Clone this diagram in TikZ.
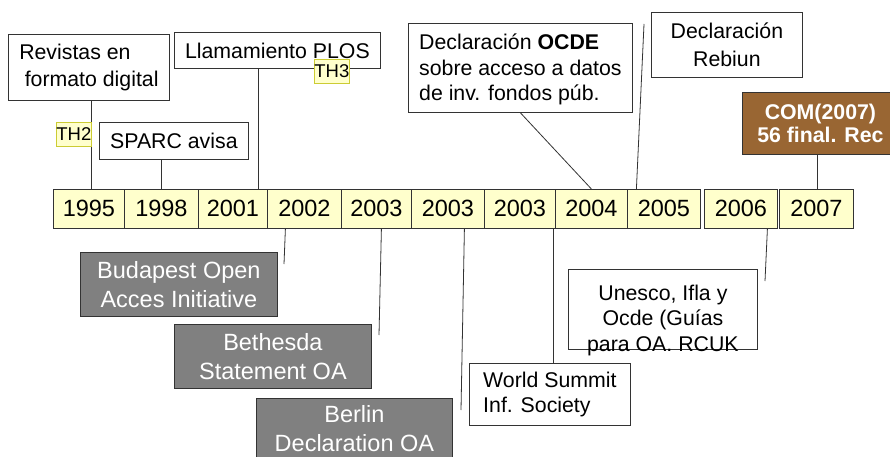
\documentclass[tikz,border=0pt]{standalone}
\usepackage{fontspec}
\setmainfont{Liberation Sans}
\usetikzlibrary{calc}
\definecolor{yfill}{HTML}{FFFFCC}
\definecolor{thline}{HTML}{CCCC33}
\definecolor{brownf}{HTML}{996633}
\definecolor{grayf}{HTML}{808080}
\definecolor{edge}{HTML}{333333}
\begin{document}
\begin{tikzpicture}[x=1pt,y=-1pt,
  box/.style={draw=edge, line width=0.8pt, inner sep=0pt, anchor=north west, font=\fontsize{21.3}{25.5}\selectfont, align=center},
  yr/.style={draw=edge, fill=yfill, line width=0.8pt, inner sep=0pt, anchor=north west, minimum height=39pt, font=\fontsize{23.5}{26}\selectfont},
  gbox/.style={box, fill=grayf, text=white, font=\fontsize{23.5}{28.5}\selectfont},
  bbox/.style={box, fill=brownf, text=white, font=\fontsize{21.3}{23.5}\selectfont\bfseries},
  th/.style={draw=thline, fill=yfill, line width=0.8pt, inner sep=0pt, anchor=north west, minimum width=35pt, minimum height=24pt, font=\fontsize{18.5}{19}\selectfont},
  conn/.style={draw=edge, line width=0.8pt}]
\useasboundingbox[fill=white] (0,0) rectangle (890,457);

% year boxes
\node[yr, minimum width=71pt] (y1) at (53,189) {1995};
\node[yr, minimum width=74pt] (y2) at (124,189) {1998};
\node[yr, minimum width=69pt] (y3) at (198,189) {2001};
\node[yr, minimum width=74pt] (y4) at (267,189) {2002};
\node[yr, minimum width=70pt] (y5) at (341,189) {2003};
\node[yr, minimum width=73pt] (y6) at (411,189) {2003};
\node[yr, minimum width=71pt] (y7) at (484,189) {2003};
\node[yr, minimum width=72pt] (y8) at (555,189) {2004};
\node[yr, minimum width=73pt] (y9) at (627,189) {2005};
\node[yr, minimum width=73pt] (y10) at (704,189) {2006};
\node[yr, minimum width=74pt] (y11) at (779,189) {2007};

% upper boxes
\node[box, align=left, minimum width=161pt, minimum height=66pt, font=\fontsize{21.3}{27}\selectfont] (rev) at (8,34) {Revistas en\\\hspace{5.5pt}formato digital};
\node[box, minimum width=149pt, minimum height=37pt] (sparc) at (99,122) {SPARC avisa};
\node[box, minimum width=206pt, minimum height=36pt] (plos) at (174,32) {Llamamiento PLOS};
\node[box, align=left, minimum width=224pt, minimum height=89pt] (ocde) at (408,23) {\raisebox{-2.5pt}[\height][\depth]{\begin{tabular}{@{}l@{}}Declaración \textbf{OCDE}\\sobre acceso a datos\\de inv. fondos púb.\end{tabular}}};
\node[box, minimum width=151pt, minimum height=65pt, font=\fontsize{21.3}{28}\selectfont] (rebiun) at (651,12) {Declaración\\Rebiun};
\node[bbox, minimum width=156pt, minimum height=62pt] (com) at (742,92) {\raisebox{-3pt}[\height][\depth]{\begin{tabular}{@{}c@{}}COM(2007)\\56 final. Rec\end{tabular}}};

% lower boxes
\node[gbox, minimum width=197pt, minimum height=64pt] (buda) at (80,252) {Budapest Open\\Acces Initiative};
\node[gbox, minimum width=197pt, minimum height=64pt] (beth) at (174,324) {Bethesda\\Statement OA};
\node[gbox, minimum width=196pt, minimum height=75pt] (berlin) at (256,398) {\raisebox{5pt}[\height][\depth]{\begin{tabular}{@{}c@{}}Berlin\\[0.5pt]Declaration OA\end{tabular}}};
\node[box, align=left, minimum width=161pt, minimum height=62pt] (wsis) at (469,363) {World Summit\\Inf. Society};
\node[box, minimum width=189pt, minimum height=80pt] (unesco) at (568,269) {\raisebox{-11pt}[\height][\depth]{\begin{tabular}{@{}c@{}}Unesco, Ifla y\\Ocde (Guías\\para OA. RCUK\end{tabular}}};

% free ends
\coordinate (e4) at (284,264);
\coordinate (e5) at (379,335);
\coordinate (e6) at (461,410);
\coordinate (e10) at (765,281);
\coordinate (erb) at (644,24);

% connectors
\draw[conn] ([xshift=2.5pt]rev.south) -- ([xshift=2.5pt]rev.south |- y1.north);
\draw[conn] (y2.north |- sparc.south) -- (y2.north);
\draw[conn] ([xshift=-19pt]plos.south) -- ([xshift=-19pt]plos.south |- y3.north);
\draw[conn] (ocde.south) -- (y8.north);
\draw[conn] ([xshift=-27.5pt]y9.north) -- (erb);
\draw[conn] ([xshift=-3pt]com.south) -- ([xshift=-3pt]com.south |- y11.north);
\draw[conn] ([xshift=-19pt]y4.south) -- (e4);
\draw[conn] ([xshift=5pt]y5.south) -- (e5);
\draw[conn] ([xshift=16.5pt]y6.south) -- (e6);
\draw[conn] ([xshift=33.5pt]y7.south) -- ([xshift=33.5pt]y7.south |- wsis.north);
\draw[conn] ([xshift=26.5pt]y10.south) -- (e10);

% TH tags
\node[th] (th2) at (56,122) {TH2};
\node[th] (th3) at (314,59) {TH3};
\end{tikzpicture}
\end{document}
